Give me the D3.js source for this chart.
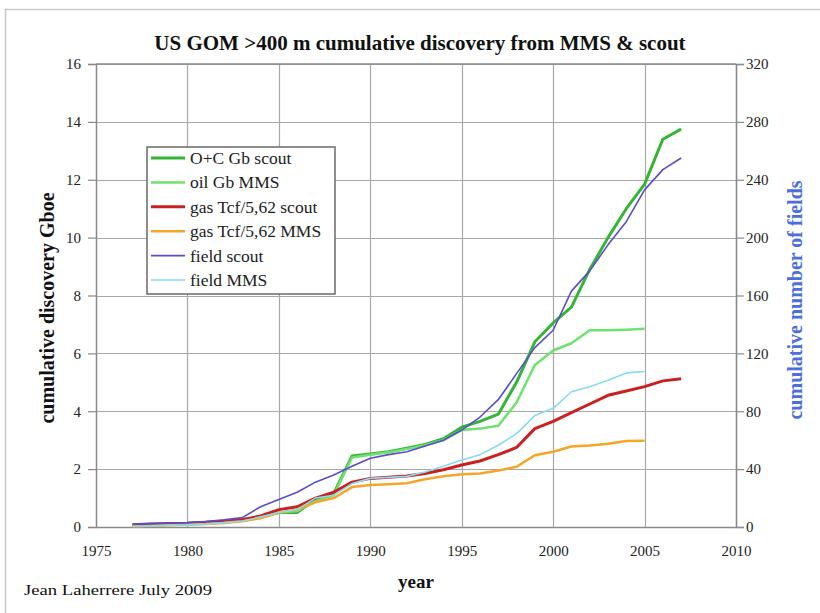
<!DOCTYPE html>
<html><head><meta charset="utf-8">
<script src="https://cdn.jsdelivr.net/npm/d3@7"></script>
<style>body{margin:0;background:#fff}svg{display:block}text{font-family:"Liberation Serif","Times New Roman",serif}</style>
</head><body><svg id="c" width="820" height="613"></svg>
<script>
const years = d3.range(1977, 2008);
const ocScout = [0.05,0.07,0.09,0.12,0.15,0.2,0.25,0.35,0.5,0.5,0.95,1.15,2.45,2.52,2.6,2.72,2.85,3.05,3.45,3.65,3.9,5.0,6.4,7.05,7.6,8.9,10.0,11.0,11.85,13.4,13.75];
const oilMMS = [0.04,0.06,0.08,0.1,0.13,0.18,0.22,0.32,0.5,0.55,0.9,1.1,2.4,2.5,2.58,2.7,2.83,3.0,3.35,3.4,3.5,4.3,5.6,6.1,6.35,6.8,6.8,6.82,6.85];
const gasScout = [0.08,0.1,0.12,0.13,0.16,0.2,0.25,0.38,0.6,0.7,1.0,1.2,1.55,1.68,1.72,1.76,1.85,1.98,2.14,2.28,2.5,2.75,3.4,3.65,3.95,4.25,4.55,4.7,4.85,5.05,5.12];
const gasMMS = [0.02,0.04,0.06,0.08,0.1,0.14,0.2,0.3,0.5,0.6,0.85,1.0,1.38,1.45,1.48,1.51,1.65,1.75,1.82,1.85,1.95,2.08,2.48,2.6,2.78,2.82,2.88,2.97,2.98];
const fieldScout = [2,2.3,2.6,3,3.8,5,6.5,14,19,24,31,36,42,47.5,50,52,56,60,67,76,88,106,124,136,163,177,195,211,233,247,255];
const fieldMMS = [0.5,0.8,1.1,1.5,2,3,4,7,10,12,20,22,30,33.6,34.3,35,38,42,46.3,50,56.5,64.5,77,82,93.5,97,101.5,106.5,107.5];
const xTicks = [1975,1980,1985,1990,1995,2000,2005,2010];
const yLeftTicks = [0,2,4,6,8,10,12,14,16];
const yRightTicks = [0,40,80,120,160,200,240,280,320];

const series = [
  {name:"O+C Gb scout", vals:ocScout, axis:"L", color:"#35b535", w:3},
  {name:"oil Gb MMS", vals:oilMMS, axis:"L", color:"#6ee26e", w:2.5},
  {name:"gas Tcf/5,62 scout", vals:gasScout, axis:"L", color:"#cc2020", w:3},
  {name:"gas Tcf/5,62 MMS", vals:gasMMS, axis:"L", color:"#f5a52a", w:2.5},
  {name:"field scout", vals:fieldScout, axis:"R", color:"#5a4ccc", w:1.6},
  {name:"field MMS", vals:fieldMMS, axis:"R", color:"#86daf2", w:1.6}
];

const svg = d3.select("#c");
const L=96, R=736, T=64, B=527;
const x = d3.scaleLinear().domain([1975,2010]).range([L,R]);
const yL = d3.scaleLinear().domain([0,16]).range([B,T]);
const yR = d3.scaleLinear().domain([0,320]).range([B,T]);

// outer frame
svg.append("rect").attr("x",5.5).attr("y",9.5).attr("width",830).attr("height",700)
  .attr("fill","none").attr("stroke","#c8c8c8").attr("stroke-width",1.5);

// grid
const g = svg.append("g");
g.selectAll(".hg").data(yLeftTicks.slice(1)).join("line")
  .attr("x1",L).attr("x2",R).attr("y1",d=>Math.round(yL(d))+0.5).attr("y2",d=>Math.round(yL(d))+0.5)
  .attr("stroke","#a8a8a8").attr("stroke-width",1.2);
g.selectAll(".vg").data(xTicks.slice(1)).join("line")
  .attr("y1",T).attr("y2",B).attr("x1",d=>Math.round(x(d))+0.5).attr("x2",d=>Math.round(x(d))+0.5)
  .attr("stroke","#a8a8a8").attr("stroke-width",1.2);

// axes
const axL = svg.append("g").attr("transform",`translate(${L},0)`).call(d3.axisLeft(yL).tickValues(yLeftTicks).tickSize(8).tickFormat(d3.format("d")));
const axR = svg.append("g").attr("transform",`translate(${R},0)`).call(d3.axisRight(yR).tickValues(yRightTicks).tickSize(8).tickFormat(d3.format("d")));
const axB = svg.append("g").attr("transform",`translate(0,${B})`).call(d3.axisBottom(x).tickValues(xTicks).tickSize(0).tickFormat(d3.format("d")));
[axL,axR,axB].forEach(a=>{
  a.select(".domain").attr("stroke","#8a8a8a").attr("stroke-width",1.5);
  a.selectAll(".tick line").attr("stroke","#8a8a8a").attr("stroke-width",1.2);
  a.selectAll("text").attr("font-family","Liberation Serif").attr("font-size",15).attr("fill","#222");
});
axL.selectAll("text").attr("x",-15);
axR.selectAll("text").attr("x",10);
axB.selectAll("text").attr("y",18);
svg.append("line").attr("x1",L).attr("x2",R).attr("y1",T).attr("y2",T).attr("stroke","#8a8a8a").attr("stroke-width",1.5);

// lines
series.forEach(s=>{
  const ys = s.axis==="L"?yL:yR;
  const line = d3.line().x((d,i)=>x(years[i])).y(d=>ys(d));
  svg.append("path").datum(s.vals).attr("d",line).attr("fill","none")
    .attr("stroke",s.color).attr("stroke-width",s.w).attr("stroke-linejoin","round");
});

// legend
const lg = svg.append("g");
lg.append("rect").attr("x",147).attr("y",147).attr("width",188).attr("height",147)
  .attr("fill","#fff").attr("stroke","#6a6a6a").attr("stroke-width",1.5);
series.forEach((s,i)=>{
  const yy = 158 + i*24.4;
  lg.append("line").attr("x1",151).attr("x2",185).attr("y1",yy).attr("y2",yy)
    .attr("stroke",s.color).attr("stroke-width",s.w);
  lg.append("text").attr("x",190).attr("y",yy+6).attr("font-size",17.5).attr("fill","#222").text(s.name);
});

// titles
svg.append("text").attr("x",420).attr("y",50).attr("text-anchor","middle").attr("font-size",21)
  .attr("font-weight","bold").attr("fill","#111").text("US GOM >400 m cumulative discovery from MMS & scout");
svg.append("text").attr("transform","translate(54,308) rotate(-90)").attr("text-anchor","middle")
  .attr("font-size",20).attr("font-weight","bold").attr("fill","#111").text("cumulative discovery Gboe");
svg.append("text").attr("transform","translate(802,300) rotate(-90)").attr("text-anchor","middle")
  .attr("font-size",20).attr("font-weight","bold").attr("fill","#4a6ee0").text("cumulative number of fields");
svg.append("text").attr("x",416).attr("y",588).attr("text-anchor","middle").attr("font-size",19)
  .attr("font-weight","bold").attr("fill","#111").text("year");
svg.append("text").attr("x",24).attr("y",595).attr("font-size",14).attr("fill","#111")
  .attr("font-family","DejaVu Sans Condensed").attr("textLength",188).attr("lengthAdjust","spacingAndGlyphs").text("Jean Laherrere July 2009");
</script></body></html>
